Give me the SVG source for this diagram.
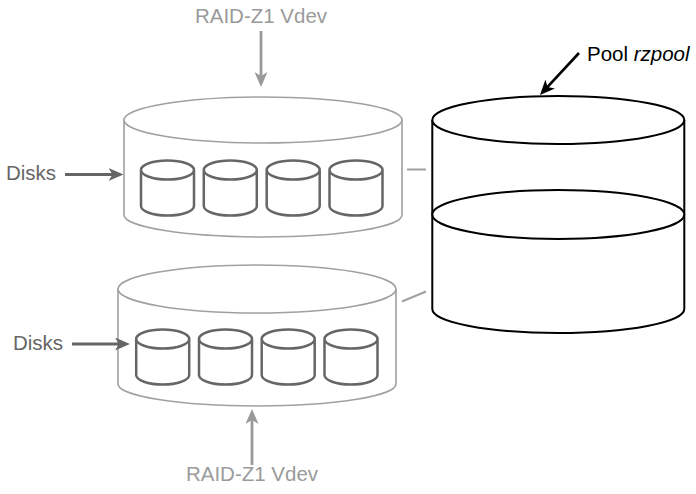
<svg xmlns="http://www.w3.org/2000/svg" width="696" height="494" viewBox="0 0 696 494">
  <style>
    .lbl { font-family: "Liberation Sans", Arial, sans-serif; font-size: 20.5px; }
    .vdev-lbl { fill: #9a9a9a; }
    .disk-lbl { fill: #666666; }
    .pool-lbl { fill: #000000; }
    .vdev { fill: #ffffff; stroke: #a0a0a0; stroke-width: 1.6; }
    .disk { fill: #ffffff; stroke: #666666; stroke-width: 2.5; }
    .pool { fill: #ffffff; stroke: #000000; stroke-width: 2; }
    .ln-light { stroke: #9a9a9a; stroke-width: 2.8; fill: none; }
    .ln-dark { stroke: #666666; stroke-width: 2.8; fill: none; }
    .ln-black { stroke: #000000; stroke-width: 2.6; fill: none; }
    .tie { stroke: #a0a0a0; stroke-width: 2; fill: none; }
  </style>
  <defs>
    <!-- notched arrowheads; tip sits 4px beyond the line end -->
    <marker id="ah-light" viewBox="0 0 15 13" refX="11" refY="6.5" markerWidth="15" markerHeight="13" markerUnits="userSpaceOnUse" orient="auto">
      <path d="M0,0 L15,6.5 L0,13 L4,6.5 Z" fill="#9a9a9a"/>
    </marker>
    <marker id="ah-dark" viewBox="0 0 15 13" refX="11" refY="6.5" markerWidth="15" markerHeight="13" markerUnits="userSpaceOnUse" orient="auto">
      <path d="M0,0 L15,6.5 L0,13 L4,6.5 Z" fill="#666666"/>
    </marker>
    <marker id="ah-black" viewBox="0 0 15 13" refX="11" refY="6.5" markerWidth="15" markerHeight="13" markerUnits="userSpaceOnUse" orient="auto">
      <path d="M0,0 L15,6.5 L0,13 L4,6.5 Z" fill="#000000"/>
    </marker>
    <!-- single disk drum, origin at centre of its top face -->
    <path id="disk" d="M-26.5,0 a26.5,9.5 0 1,0 53,0 a26.5,9.5 0 1,0 -53,0 M-26.5,0 V36 a26.5,9.5 0 0,0 53,0 V0"/>
  </defs>

  <!-- upper RAID-Z1 vdev -->
  <g id="vdev-top">
    <path class="vdev" d="M124,120 V215 A139,22 0 0,0 402,215 V120"/>
    <ellipse class="vdev" cx="263" cy="120" rx="139" ry="23"/>
    <use href="#disk" class="disk" x="167.5" y="170"/>
    <use href="#disk" class="disk" x="230.3" y="170"/>
    <use href="#disk" class="disk" x="293.2" y="170"/>
    <use href="#disk" class="disk" x="356" y="170"/>
  </g>

  <!-- lower RAID-Z1 vdev -->
  <g id="vdev-bottom">
    <path class="vdev" d="M118,289 V384 A139,22 0 0,0 396,384 V289"/>
    <ellipse class="vdev" cx="257" cy="289" rx="139" ry="24"/>
    <use href="#disk" class="disk" x="162.7" y="339"/>
    <use href="#disk" class="disk" x="225.5" y="339"/>
    <use href="#disk" class="disk" x="288.2" y="339"/>
    <use href="#disk" class="disk" x="351" y="339"/>
  </g>

  <!-- pool built from the two vdevs -->
  <g id="pool">
    <path class="pool" d="M432.3,120 V309 A126,24 0 0,0 684.3,309 V120"/>
    <ellipse class="pool" cx="558.3" cy="120" rx="126" ry="24"/>
    <path class="pool" d="M432.3,214.5 A126,24.5 0 0,1 684.3,214.5 A126,24.5 0 0,1 432.3,214.5 Z"/>
  </g>

  <!-- labels -->
  <g id="label-vdev-top"><text class="lbl vdev-lbl" x="261" y="23" text-anchor="middle">RAID-Z1 Vdev</text></g>
  <g id="label-vdev-bottom"><text class="lbl vdev-lbl" x="252" y="481" text-anchor="middle">RAID-Z1 Vdev</text></g>
  <g id="label-disks-top"><text class="lbl disk-lbl" x="6" y="180">Disks</text></g>
  <g id="label-disks-bottom"><text class="lbl disk-lbl" x="13" y="350">Disks</text></g>
  <g id="label-pool"><text class="lbl pool-lbl" x="587" y="61">Pool <tspan font-style="italic">rzpool</tspan></text></g>

  <!-- connectors -->
  <g id="connectors">
    <line class="ln-light" x1="261" y1="31" x2="261" y2="83" marker-end="url(#ah-light)"/>
    <line class="ln-light" x1="252" y1="465" x2="252" y2="413" marker-end="url(#ah-light)"/>
    <line class="ln-dark" x1="65" y1="174.5" x2="119.5" y2="174.5" marker-end="url(#ah-dark)"/>
    <line class="ln-dark" x1="72" y1="344" x2="126" y2="344" marker-end="url(#ah-dark)"/>
    <line class="ln-black" x1="579" y1="53" x2="542.7" y2="92.1" marker-end="url(#ah-black)"/>
    <line class="tie" x1="407" y1="169.5" x2="426" y2="169.5"/>
    <line class="tie" x1="402" y1="301.5" x2="426" y2="291.5"/>
  </g>
</svg>
